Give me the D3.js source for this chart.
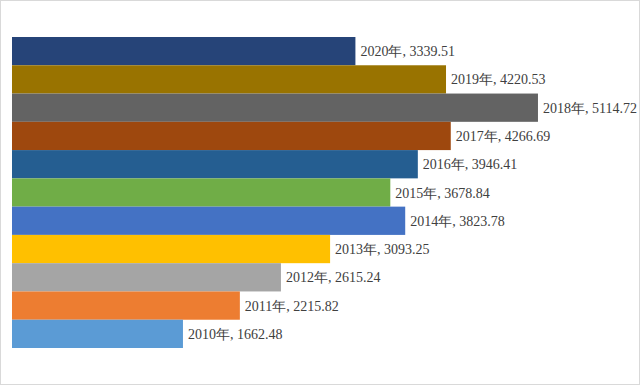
<!DOCTYPE html>
<html>
<head>
<meta charset="utf-8">
<script src="https://cdn.jsdelivr.net/npm/d3@7"></script>
<style>
  body { margin: 0; background: #fff; }
</style>
</head>
<body>
<div id="chart"></div>
<script>
// data, top to bottom
var years = ["2020年", "2019年", "2018年", "2017年", "2016年", "2015年", "2014年", "2013年", "2012年", "2011年", "2010年"];
var values = [3339.51, 4220.53, 5114.72, 4266.69, 3946.41, 3678.84, 3823.78, 3093.25, 2615.24, 2215.82, 1662.48];
var colors = ["#264478", "#997300", "#636363", "#9E480E", "#255E91", "#70AD47", "#4472C4", "#FFC000", "#A5A5A5", "#ED7D31", "#5B9BD5"];

var width = 640, height = 385;

var svg = d3.select("#chart").append("svg")
    .attr("width", width)
    .attr("height", height);

// outer frame
svg.append("rect")
    .attr("x", 0.5).attr("y", 0.5)
    .attr("width", width - 1).attr("height", height - 1)
    .attr("fill", "#fff")
    .attr("stroke", "#d9d9d9");

var x = d3.scaleLinear()
    .domain([0, 6000])
    .range([12, 629]);

var y = d3.scaleBand()
    .domain(years)
    .range([37, 348])
    .padding(0);

var rows = years.map(function(d, i) { return {year: d, value: values[i], color: colors[i]}; });

svg.selectAll(".bar")
    .data(rows)
  .enter().append("rect")
    .attr("class", "bar")
    .attr("x", x(0))
    .attr("y", function(d) { return y(d.year); })
    .attr("width", function(d) { return x(d.value) - x(0); })
    .attr("height", y.bandwidth())
    .attr("fill", function(d) { return d.color; });

svg.selectAll(".label")
    .data(rows)
  .enter().append("text")
    .attr("class", "label")
    .attr("x", function(d) { return x(d.value) + 5; })
    .attr("y", function(d) { return y(d.year) + y.bandwidth() / 2 + 5; })
    .attr("font-family", "'Liberation Serif', 'Times New Roman', serif")
    .attr("font-size", 14)
    .attr("fill", "#404040")
    .text(function(d) { return d.year + ", " + d.value.toFixed(2); });
</script>
</body>
</html>
